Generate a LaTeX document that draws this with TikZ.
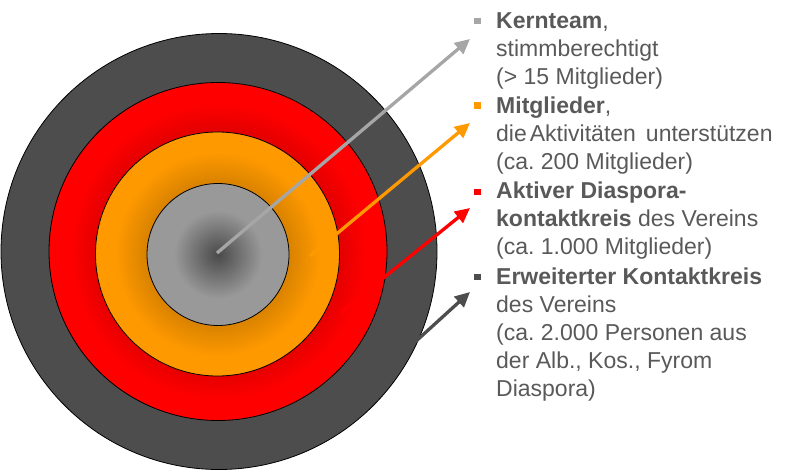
\documentclass[tikz,border=0pt]{standalone}
\usepackage{fontspec}
\setmainfont{Liberation Sans}
\usetikzlibrary{arrows.meta}
\frenchspacing
\definecolor{txt}{HTML}{595959}
\definecolor{dgray}{HTML}{4D4D4D}
\definecolor{lgray}{HTML}{A6A6A6}
\definecolor{corein}{HTML}{4A4A4A}
\definecolor{coreout}{HTML}{999999}
\definecolor{myorange}{HTML}{FF9900}
\definecolor{dorange}{HTML}{D88200}
\definecolor{myred}{HTML}{FF0000}
\definecolor{dred}{HTML}{E40000}
\pgfdeclareradialshading{coreshade}{\pgfpoint{0bp}{0bp}}{color(0bp)=(corein); color(15.5bp)=(coreout); color(50bp)=(coreout)}
\pgfdeclareradialshading{orangeshade}{\pgfpoint{0bp}{0bp}}{color(0bp)=(dorange); color(14.5bp)=(dorange); color(21bp)=(myorange); color(50bp)=(myorange)}
\pgfdeclareradialshading{redshade}{\pgfpoint{0bp}{0bp}}{color(0bp)=(dred); color(18bp)=(dred); color(22bp)=(myred); color(50bp)=(myred)}
\tikzset{
  ring/.style={circle, draw=black, line width=0.8pt, inner sep=0pt},
  arr/.style={line width=3.3pt, -{Triangle[length=15pt,width=14pt]}},
  bul/.style={rectangle, minimum width=7pt, minimum height=6.5pt, inner sep=0pt},
  txtnode/.style={anchor=north west, align=left, inner sep=0pt, text=txt, font=\fontsize{23}{28}\selectfont\frenchspacing}
}
\begin{document}
\begin{tikzpicture}[x=1pt,y=-1pt]
\useasboundingbox (0,0) rectangle (800,471);
% circles
\node[ring, fill=dgray, minimum size=436pt] (outer) at (219,251.5) {};
\node[ring, shading=redshade, minimum size=338pt] (redring) at (218,251.5) {};
\node[ring, shading=orangeshade, minimum size=244pt] (orangering) at (217.5,254) {};
\node[ring, shading=coreshade, minimum size=142pt] (core) at (218,254.5) {};
% arrow coordinates
\coordinate (a1) at (217,253);
\coordinate (b1) at (470,39);
\coordinate (a2) at (310,256);
\coordinate (b2) at (470,123);
\coordinate (a3) at (340,313);
\coordinate (b3) at (470,208);
\coordinate (a4) at (392,363);
\coordinate (b4) at (470,292);
\draw[arr, lgray] (a1) -- (b1);
\draw[arr, myorange] (a2) -- (b2);
\draw[arr, myred] (a3) -- (b3);
\draw[arr, dgray] (a4) -- (b4);
% bullets
\node[bul, fill=lgray] (s1) at (477.5,21) {};
\node[bul, fill=myorange] (s2) at (477.5,105.5) {};
\node[bul, fill=myred] (s3) at (477.5,192) {};
\node[bul, fill=dgray] (s4) at (477.5,277) {};
% texts
\node[txtnode] (t1) at (496,12.5) {\textbf{Kernteam},\\stimmberechtigt\\(> 15 Mitglieder)};
\node[txtnode] (t2) at (496,96.5) {\textbf{Mitglieder},\\die\kern3pt Aktivitäten\kern10pt unterstützen\\(ca. 200 Mitglieder)};
\node[txtnode] (t3) at (496,181.5) {\textbf{Aktiver Diaspora-}\\\textbf{kontaktkreis} des Vereins\\(ca. 1.000 Mitglieder)};
\node[txtnode] (t4) at (496,267.5) {\textbf{Erweiterter Kontaktkreis}\\des Vereins\\(ca. 2.000 Personen aus\\der Alb., Kos., Fyrom\\Diaspora)};
\end{tikzpicture}
\end{document}
